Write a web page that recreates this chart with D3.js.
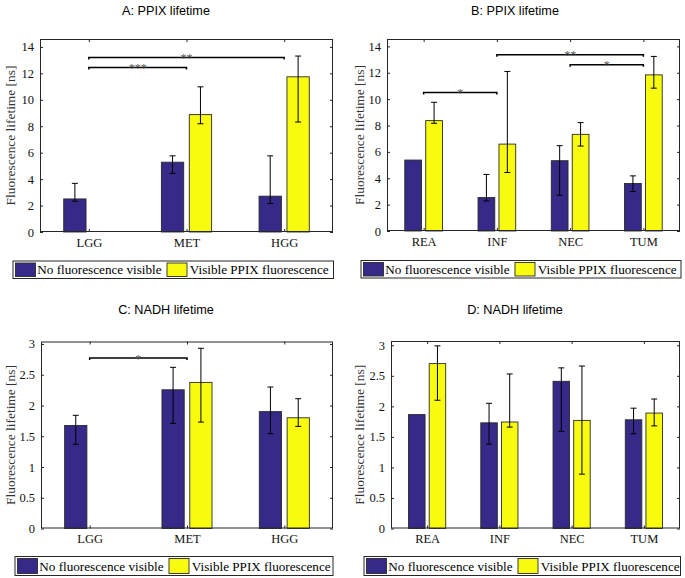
<!DOCTYPE html>
<html><head><meta charset="utf-8">
<script src="https://cdn.jsdelivr.net/npm/d3@7"></script>
<style>body{margin:0;background:#fff}svg{display:block}</style>
</head><body>
<svg id="c" width="685" height="578"></svg>
<script>
// ---------- data ----------
const seriesNames = ["No fluorescence visible", "Visible PPIX fluorescence"];
const seriesColors = ["#352a87", "#f9fb0e"];

const catsTumour = ["LGG", "MET", "HGG"];
const catsRegion = ["REA", "INF", "NEC", "TUM"];

const ticksPPIX = [0, 2, 4, 6, 8, 10, 12, 14];
const ticksNADH = [0, 0.5, 1, 1.5, 2, 2.5, 3];
const tickLabelsNADH = ["0", "0.5", "1", "1.5", "2", "2.5", "3"];

// A: PPIX lifetime by tumour type
const aNoFluo      = [2.50, 5.28, 2.71];
const aNoFluoLo    = [2.33, 4.44, 2.16];
const aNoFluoHi    = [3.68, 5.76, 5.76];
const aVisFluo     = [null, 8.88, 11.74];
const aVisFluoLo   = [null, 8.19, 8.32];
const aVisFluoHi   = [null, 10.98, 13.31];
const aSigFrom = [0, 0], aSigTo = [2, 1], aSigY = [13.2, 12.45], aSigLabel = ["**", "***"];

// B: PPIX lifetime by region
const bNoFluo      = [5.38, 2.54, 5.33, 3.60];
const bNoFluoLo    = [5.38, 2.28, 2.71, 2.99];
const bNoFluoHi    = [5.38, 4.29, 6.47, 4.18];
const bVisFluo     = [8.37, 6.59, 7.33, 11.84];
const bVisFluoLo   = [8.17, 4.44, 6.44, 10.83];
const bVisFluoHi   = [9.76, 12.10, 8.22, 13.24];
const bSigFrom = [0, 1, 2], bSigTo = [1, 3, 3], bSigY = [10.5, 13.37, 12.6], bSigLabel = ["*", "**", "*"];

// C: NADH lifetime by tumour type
const cNoFluo      = [1.674, 2.255, 1.90];
const cNoFluoLo    = [1.37, 1.71, 1.54];
const cNoFluoHi    = [1.84, 2.62, 2.30];
const cVisFluo     = [null, 2.375, 1.80];
const cVisFluoLo   = [null, 1.73, 1.66];
const cVisFluoHi   = [null, 2.93, 2.11];
const cSigFrom = [0], cSigTo = [1], cSigY = [2.77], cSigLabel = ["*"];

// D: NADH lifetime by region
const dNoFluo      = [1.865, 1.73, 2.41, 1.78];
const dNoFluoLo    = [1.865, 1.38, 1.59, 1.55];
const dNoFluoHi    = [1.865, 2.05, 2.63, 1.97];
const dVisFluo     = [2.70, 1.744, 1.77, 1.89];
const dVisFluoLo   = [2.10, 1.66, 0.89, 1.68];
const dVisFluoHi   = [2.99, 2.53, 2.66, 2.12];

// ---------- drawing ----------
const svg = d3.select("#c");
const serif = "Liberation Serif, Times New Roman, serif";
const sans = "Liberation Sans, Arial, Helvetica, sans-serif";
const axisColor = "#262626";

function fitSize(str, family, target) {
  const t = svg.append("text").attr("font-family", family).attr("font-size", 20).text(str);
  const w = t.node().getComputedTextLength();
  t.remove();
  return w > 0 ? 20 * target / w : 13;
}
const fsLegend = Math.min(fitSize(seriesNames[0], serif, 127), fitSize(seriesNames[1], serif, 139));
const fsYlab = fitSize("Fluorescence lifetime [ns]", serif, 140);
const fsTick = fitSize("LGG", serif, 25.7);
const fsTitle = fitSize("A: PPIX lifetime", sans, 88);

function panel(cfg) {
  const g = svg.append("g");
  const n = cfg.cats.length;
  const x = d3.scaleLinear().domain([0.5, n + 0.5]).range([cfg.left, cfg.right]);
  const y = d3.scaleLinear().domain([0, cfg.ymax]).range([cfg.bottom, cfg.top]);
  const idx = d3.range(n);
  const barW = 0.2286, off = 0.1429;

  g.append("text").attr("x", cfg.titleX).attr("y", cfg.titleY)
    .attr("text-anchor", "middle").attr("font-family", sans).attr("font-size", fsTitle)
    .attr("fill", "#000").text(cfg.title);

  g.append("rect").attr("x", cfg.left).attr("y", cfg.top)
    .attr("width", cfg.right - cfg.left).attr("height", cfg.bottom - cfg.top).attr("fill", "#fff");

  const series = [
    {v: cfg.s0, lo: cfg.s0lo, hi: cfg.s0hi, dx: -off, color: seriesColors[0]},
    {v: cfg.s1, lo: cfg.s1lo, hi: cfg.s1hi, dx: off, color: seriesColors[1]}
  ];
  series.forEach(s => {
    const data = idx.filter(i => s.v[i] != null);
    g.selectAll(null).data(data).enter().append("rect")
      .attr("x", i => x(i + 1 + s.dx - barW / 2))
      .attr("width", i => x(i + 1 + s.dx + barW / 2) - x(i + 1 + s.dx - barW / 2))
      .attr("y", i => y(s.v[i]))
      .attr("height", i => y(0) - y(s.v[i]))
      .attr("fill", s.color).attr("stroke", "#2a2a2a").attr("stroke-width", 0.9);
  });

  series.forEach(s => {
    const data = idx.filter(i => s.v[i] != null && s.hi[i] !== s.lo[i]);
    const eg = g.selectAll(null).data(data).enter().append("g")
      .attr("stroke", "#000").attr("stroke-width", 1);
    eg.append("line")
      .attr("x1", i => x(i + 1 + s.dx)).attr("x2", i => x(i + 1 + s.dx))
      .attr("y1", i => y(s.lo[i])).attr("y2", i => y(s.hi[i]));
    ["lo", "hi"].forEach(k => {
      eg.append("line")
        .attr("x1", i => x(i + 1 + s.dx) - 3).attr("x2", i => x(i + 1 + s.dx) + 3)
        .attr("y1", i => y(s[k][i])).attr("y2", i => y(s[k][i]));
    });
  });

  const tickVals = idx.map(i => i + 1);
  const ax = g.append("g").attr("transform", `translate(0,${cfg.bottom})`)
    .call(d3.axisBottom(x).tickValues(tickVals).tickFormat(d => cfg.cats[d - 1])
      .tickSizeInner(-3).tickSizeOuter(0).tickPadding(6));
  const axTop = g.append("g").attr("transform", `translate(0,${cfg.top})`)
    .call(d3.axisTop(x).tickValues(tickVals).tickFormat("").tickSizeInner(-3).tickSizeOuter(0));
  const ay = g.append("g").attr("transform", `translate(${cfg.left},0)`)
    .call(d3.axisLeft(y).tickValues(cfg.ticks).tickFormat((d, i) => cfg.tickLabels[i])
      .tickSizeInner(-3).tickSizeOuter(0).tickPadding(6));
  const ayR = g.append("g").attr("transform", `translate(${cfg.right},0)`)
    .call(d3.axisRight(y).tickValues(cfg.ticks).tickFormat("").tickSizeInner(-3).tickSizeOuter(0));
  [ax, axTop, ay, ayR].forEach(a => {
    a.attr("font-family", serif).attr("font-size", fsTick);
    a.select(".domain").remove();
    a.selectAll(".tick line").attr("stroke", axisColor);
    a.selectAll("text").attr("fill", "#111");
  });
  g.append("rect").attr("x", cfg.left + 0.5).attr("y", cfg.top + 0.5)
    .attr("width", cfg.right - cfg.left - 1).attr("height", cfg.bottom - cfg.top - 1)
    .attr("fill", "none").attr("stroke", axisColor).attr("stroke-width", 1);

  g.append("text")
    .attr("transform", `translate(${cfg.ylabX},${(cfg.top + cfg.bottom) / 2}) rotate(-90)`)
    .attr("text-anchor", "middle").attr("dominant-baseline", "central")
    .attr("font-family", serif).attr("font-size", fsYlab).attr("fill", "#333")
    .text("Fluorescence lifetime [ns]");

  (cfg.sigFrom || []).forEach((f, k) => {
    const x1 = x(f + 1), x2 = x(cfg.sigTo[k] + 1), yy = y(cfg.sigY[k]);
    g.append("path")
      .attr("d", `M${x1},${yy + 2}V${yy}H${x2}V${yy + 2}`)
      .attr("fill", "none").attr("stroke", "#000").attr("stroke-width", 1.5);
    g.append("text").attr("x", (x1 + x2) / 2).attr("y", yy + 4.5)
      .attr("text-anchor", "middle").attr("font-family", serif).attr("font-size", 12)
      .attr("fill", "#555").text(cfg.sigLabel[k]);
  });

  const L = cfg.legend;
  const lg = g.append("g");
  lg.append("rect").attr("x", L.x + 0.5).attr("y", L.y + 0.5).attr("width", L.w).attr("height", L.h)
    .attr("fill", "#fff").attr("stroke", axisColor).attr("stroke-width", 1);
  const offs = [[2.5, 24.8], [154, 177.3]];
  seriesNames.forEach((name, k) => {
    lg.append("rect").attr("x", L.x + offs[k][0] + 0.5).attr("y", L.y + 2.5)
      .attr("width", 20).attr("height", L.h - 4)
      .attr("fill", seriesColors[k]).attr("stroke", "#2a2a2a").attr("stroke-width", 0.9);
    lg.append("text").attr("x", L.x + offs[k][1]).attr("y", L.y + L.h / 2 + 0.5)
      .attr("dominant-baseline", "central").attr("font-family", serif).attr("font-size", fsLegend)
      .attr("fill", "#000").text(name);
  });
}

panel({title: "A: PPIX lifetime", titleX: 166, titleY: 15, cats: catsTumour,
  left: 40, right: 333, top: 39, bottom: 232, ymax: 14.6,
  ticks: ticksPPIX, tickLabels: ticksPPIX.map(String), ylabX: 10,
  s0: aNoFluo, s0lo: aNoFluoLo, s0hi: aNoFluoHi, s1: aVisFluo, s1lo: aVisFluoLo, s1hi: aVisFluoHi,
  sigFrom: aSigFrom, sigTo: aSigTo, sigY: aSigY, sigLabel: aSigLabel,
  legend: {x: 12.5, y: 260.5, w: 320.5, h: 17.5}});

panel({title: "B: PPIX lifetime", titleX: 515, titleY: 15, cats: catsRegion,
  left: 387, right: 680, top: 39, bottom: 231, ymax: 14.56,
  ticks: ticksPPIX, tickLabels: ticksPPIX.map(String), ylabX: 359,
  s0: bNoFluo, s0lo: bNoFluoLo, s0hi: bNoFluoHi, s1: bVisFluo, s1lo: bVisFluoLo, s1hi: bVisFluoHi,
  sigFrom: bSigFrom, sigTo: bSigTo, sigY: bSigY, sigLabel: bSigLabel,
  legend: {x: 360.5, y: 260, w: 320, h: 17.5}});

panel({title: "C: NADH lifetime", titleX: 166, titleY: 314, cats: catsTumour,
  left: 41, right: 333, top: 341.5, bottom: 528.5, ymax: 3.04,
  ticks: ticksNADH, tickLabels: tickLabelsNADH, ylabX: 10,
  s0: cNoFluo, s0lo: cNoFluoLo, s0hi: cNoFluoHi, s1: cVisFluo, s1lo: cVisFluoLo, s1hi: cVisFluoHi,
  sigFrom: cSigFrom, sigTo: cSigTo, sigY: cSigY, sigLabel: cSigLabel,
  legend: {x: 14.5, y: 556, w: 318, h: 19}});

panel({title: "D: NADH lifetime", titleX: 515, titleY: 314, cats: catsRegion,
  left: 391, right: 680, top: 341, bottom: 528.5, ymax: 3.07,
  ticks: ticksNADH, tickLabels: tickLabelsNADH, ylabX: 359,
  s0: dNoFluo, s0lo: dNoFluoLo, s0hi: dNoFluoHi, s1: dVisFluo, s1lo: dVisFluoLo, s1hi: dVisFluoHi,
  legend: {x: 363.5, y: 556, w: 316.5, h: 19}});
</script>
</body></html>
